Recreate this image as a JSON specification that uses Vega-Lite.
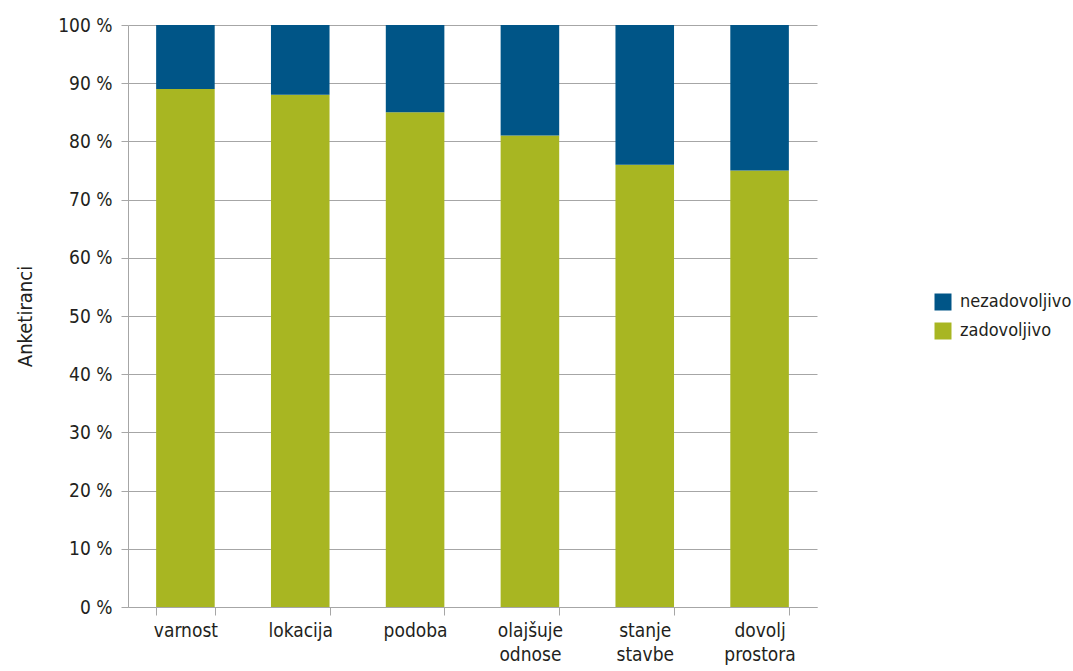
{
  "$schema": "https://vega.github.io/schema/vega-lite/v6.json",
  "width": 689,
  "height": 582,
  "autosize": {"type": "none"},
  "padding": {"left": 128, "top": 25, "right": 256, "bottom": 64},
  "background": "white",
  "config": {
    "font": "DejaVu Sans Condensed, sans-serif",
    "view": {"stroke": null}
  },
  "data": {
    "values": [
      {"kategorija": "varnost", "ocena": "zadovoljivo", "delez": 89},
      {"kategorija": "varnost", "ocena": "nezadovoljivo", "delez": 11},
      {"kategorija": "lokacija", "ocena": "zadovoljivo", "delez": 88},
      {"kategorija": "lokacija", "ocena": "nezadovoljivo", "delez": 12},
      {"kategorija": "podoba", "ocena": "zadovoljivo", "delez": 85},
      {"kategorija": "podoba", "ocena": "nezadovoljivo", "delez": 15},
      {"kategorija": "olajšuje odnose", "ocena": "zadovoljivo", "delez": 81},
      {"kategorija": "olajšuje odnose", "ocena": "nezadovoljivo", "delez": 19},
      {"kategorija": "stanje stavbe", "ocena": "zadovoljivo", "delez": 76},
      {"kategorija": "stanje stavbe", "ocena": "nezadovoljivo", "delez": 24},
      {"kategorija": "dovolj prostora", "ocena": "zadovoljivo", "delez": 75},
      {"kategorija": "dovolj prostora", "ocena": "nezadovoljivo", "delez": 25}
    ]
  },
  "mark": {"type": "bar"},
  "encoding": {
    "x": {
      "field": "kategorija",
      "type": "nominal",
      "sort": null,
      "scale": {"paddingInner": 0.49, "paddingOuter": 0.245},
      "axis": {
        "title": null,
        "labelAngle": 0,
        "labelExpr": "isValid(datum.value) ? split(datum.value, ' ') : ''",
        "labelFontSize": 19,
        "labelColor": "#231f20",
        "labelLineHeight": 24,
        "labelPadding": 6,
        "tickBand": "extent",
        "ticks": true,
        "tickSize": 8,
        "tickColor": "#a6a6a6",
        "domain": true,
        "domainColor": "#a6a6a6",
        "grid": false
      }
    },
    "y": {
      "field": "delez",
      "type": "quantitative",
      "stack": "zero",
      "scale": {"domain": [0, 100], "nice": false},
      "axis": {
        "title": "Anketiranci",
        "titleFontSize": 20,
        "titleFontWeight": "normal",
        "titleColor": "#231f20",
        "titleX": -103,
        "titleY": 291,
        "titleAngle": -90,
        "titleAlign": "center",
        "titleBaseline": "middle",
        "values": [0, 10, 20, 30, 40, 50, 60, 70, 80, 90, 100],
        "labelExpr": "datum.value + ' %'",
        "labelFontSize": 19,
        "labelColor": "#231f20",
        "labelPadding": 9,
        "tickSize": 7,
        "tickColor": "#a6a6a6",
        "domainColor": "#a6a6a6",
        "grid": true,
        "gridColor": "#a6a6a6",
        "gridOpacity": 1
      }
    },
    "color": {
      "field": "ocena",
      "type": "nominal",
      "scale": {"domain": ["nezadovoljivo", "zadovoljivo"], "range": ["#005587", "#a8b622"]},
      "legend": {
        "title": null,
        "orient": "none",
        "legendX": 806,
        "legendY": 268,
        "symbolType": "square",
        "symbolSize": 289,
        "symbolStrokeWidth": 0,
        "symbolOpacity": 1,
        "labelFontSize": 18,
        "labelColor": "#231f20",
        "labelOffset": 8,
        "rowPadding": 11
      }
    },
    "order": {"field": "ocena", "sort": "descending"}
  }
}
